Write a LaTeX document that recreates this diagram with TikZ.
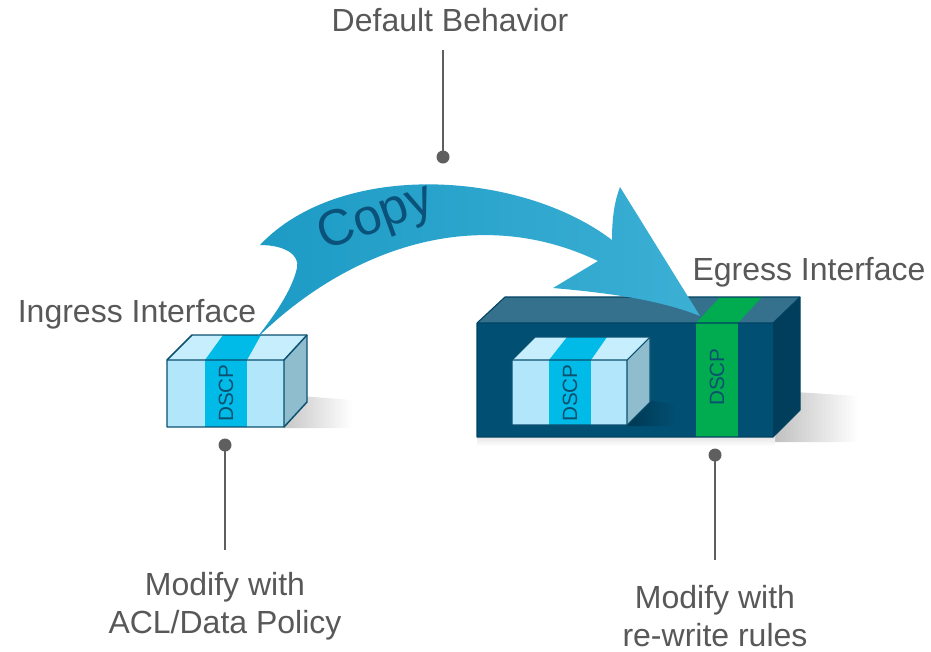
\documentclass[tikz,border=0pt]{standalone}
\usepackage{fontspec}
\setmainfont{Liberation Sans}

\definecolor{txtgray}{RGB}{88,88,88}
\definecolor{pingray}{RGB}{95,95,95}
\definecolor{pktfront}{RGB}{178,230,251}
\definecolor{pkttop}{RGB}{198,238,253}
\definecolor{pktside}{RGB}{143,189,205}
\definecolor{pktband}{RGB}{0,187,232}
\definecolor{pktedge}{RGB}{12,80,112}
\definecolor{iffront}{RGB}{1,79,115}
\definecolor{iftop}{RGB}{53,113,141}
\definecolor{ifside}{RGB}{0,62,91}
\definecolor{ifedge}{RGB}{0,66,98}
\definecolor{dscpgreen}{RGB}{0,172,79}
\definecolor{arrowleft}{RGB}{28,155,197}
\definecolor{arrowright}{RGB}{60,175,212}
\definecolor{copyblue}{RGB}{10,82,122}

\tikzset{
  label text/.style={inner sep=0pt, text=txtgray, font=\fontsize{24}{28.5}\selectfont},
  dscp text/.style={inner sep=0pt, rotate=90, text=pktedge, font=\fontsize{15.5}{18}\selectfont},
  pin line/.style={draw=pingray, line width=2.2pt},
  pin dot/.style={fill=pingray},
}

\begin{document}
\begin{tikzpicture}[x=0.75pt,y=0.75pt,yscale=-1,xscale=1]
\path[use as bounding box] (0,0) rectangle (931,651);

%Shadows under the boxes
\shade[left color=black!22, right color=white] (300,396) -- (352,400) -- (352,428) -- (284,428) -- cycle ;
\shade[left color=black!25, right color=white] (795,392) -- (858,396) -- (858,442) -- (773,442) -- cycle ;
\shade[top color=black!10, bottom color=white] (477,437) rectangle (775,446) ;

%Shape: Cube (ingress packet)
\fill[pktfront] (167,360) rectangle (284,427) ;
\fill[pkttop] (167,360) -- (192,335) -- (307,335) -- (284,360) -- cycle ;
\fill[pktside] (284,360) -- (307,335) -- (307,402) -- (284,427) -- cycle ;
\fill[pktband] (205,360) rectangle (247,427) ;
\fill[pktband] (205,360) -- (223,335) -- (261,335) -- (247,360) -- cycle ;
\draw[pktedge, line width=1.1pt, line join=round] (167,360) -- (192,335) -- (307,335) -- (307,402) -- (284,427) -- (167,427) -- cycle ;
\draw[pktedge, line width=1.1pt, line join=round] (167,360) -- (284,360) -- (307,335) (284,360) -- (284,427) ;

%Shape: Cube (egress interface)
\fill[iffront] (477,323) rectangle (773,437) ;
\fill[iftop] (477,323) -- (505,297) -- (800,297) -- (773,323) -- cycle ;
\fill[ifside] (773,323) -- (800,297) -- (800,410) -- (773,437) -- cycle ;
\fill[dscpgreen] (696,323) rectangle (738,437) ;
\fill[dscpgreen] (696,323) -- (720,297) -- (762,297) -- (738,323) -- cycle ;
\draw[ifedge, line width=0.8pt, line join=round] (477,323) -- (505,297) -- (800,297) -- (800,410) -- (773,437) -- (477,437) -- cycle ;
\draw[ifedge, line width=0.8pt] (477,323) -- (773,323) -- (800,297) ;

%Inner shadow
\shade[left color=ifside!90!black, right color=iffront] (648,400) -- (676,405) -- (676,426) -- (627,426) -- cycle ;

%Shape: Cube (packet inside egress)
\fill[pktfront] (512,360) rectangle (627,425) ;
\fill[pkttop] (512,360) -- (535,337) -- (650,337) -- (627,360) -- cycle ;
\fill[pktside] (627,360) -- (650,337) -- (650,402) -- (627,425) -- cycle ;
\fill[pktband] (549,360) rectangle (591,425) ;
\fill[pktband] (549,360) -- (567,337) -- (607,337) -- (591,360) -- cycle ;
\draw[pktedge, line width=0.8pt, line join=round] (512,360) -- (535,337) -- (650,337) -- (650,402) -- (627,425) -- (512,425) -- cycle ;
\draw[pktedge, line width=0.8pt] (512,360) -- (627,360) -- (650,337) (627,360) -- (627,425) ;

% Text Node
\node[dscp text] (dscpin) at (226,393) {DSCP};
\node[dscp text] (dscpinner) at (570,393) {DSCP};
\node[dscp text] (dscpout) at (717,377) {DSCP};

%Curve Lines (copy arrow)
\shade[left color=arrowleft, right color=arrowright]
  (255,340) .. controls (340,255) and (470,200) .. (598,261)
  -- (553,288) .. controls (610,293) and (660,300) .. (700,316)
  -- (620,187) .. controls (613,205) and (612,225) .. (612,240)
  .. controls (520,170) and (340,160) .. (260,245)
  .. controls (285,245) and (300,255) .. (297,268)
  .. controls (292,290) and (275,315) .. cycle ;

% Text Node
\node[inner sep=0pt, rotate=20, text=copyblue, font=\fontsize{38}{40}\selectfont] (copy) at (376,219) {Copy};

% Text Node
\node[label text, anchor=base] (defbeh) at (450,31) {Default Behavior};
\node[label text, anchor=base] (ingress) at (137,322) {Ingress Interface};
\node[label text, anchor=base] (egress) at (809,280) {Egress Interface};
\node[label text, anchor=north, align=center] (modacl) at (225,572) {Modify with\\ACL/Data Policy};
\node[label text, anchor=north, align=center] (modrw) at (715,585) {Modify with\\re-write rules};

%Straight Lines (pins)
\coordinate (deftop) at (443,50);
\coordinate (defdot) at (443,157);
\coordinate (indot) at (225,445);
\coordinate (inend) at (225,550);
\coordinate (egdot) at (715,455);
\coordinate (egend) at (715,560);
\draw[pin line] (deftop) -- (defdot) ;
\fill[pin dot] (defdot) circle (6.5) ;
\draw[pin line] (indot) -- (inend) ;
\fill[pin dot] (indot) circle (6.5) ;
\draw[pin line] (egdot) -- (egend) ;
\fill[pin dot] (egdot) circle (6.5) ;

\end{tikzpicture}
\end{document}
